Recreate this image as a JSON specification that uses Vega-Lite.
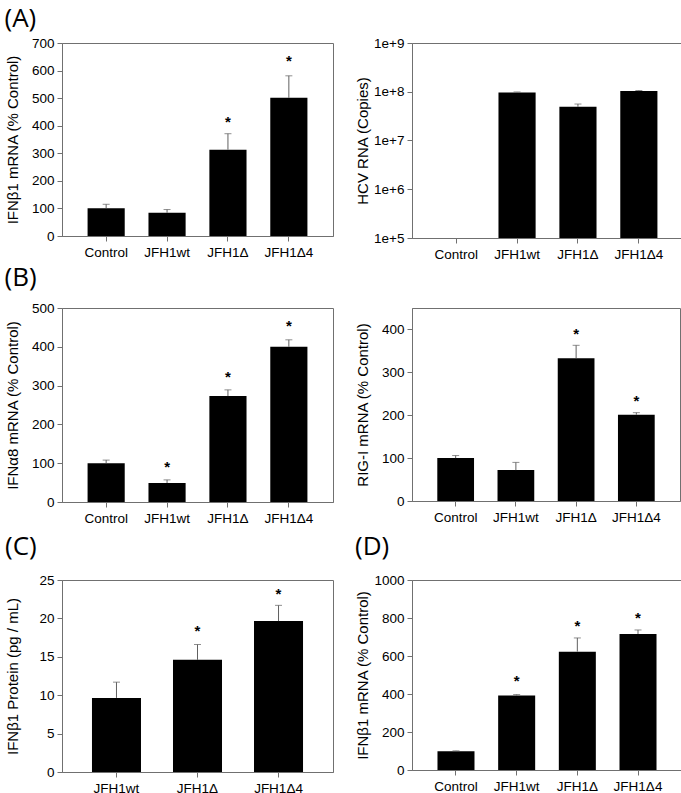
{
  "$schema": "https://vega.github.io/schema/vega-lite/v6.json",
  "padding": {"left": 4, "top": 5, "right": 1, "bottom": 0},
  "background": "white",
  "config": {
    "font": "Liberation Sans",
    "view": {"stroke": "#707070", "strokeWidth": 1},
    "axis": {
      "domainColor": "#707070", "tickColor": "#707070", "tickSize": 5,
      "labelFont": "Liberation Sans", "labelFontSize": 13.5, "labelColor": "black",
      "titleFont": "Liberation Sans", "titleFontSize": 15, "titleFontWeight": "normal", "titleColor": "black",
      "grid": false, "labelOverlap": false
    },
    "axisX": {"labelAngle": 0, "title": null, "labelPadding": 4},
    "axisY": {"minExtent": 37, "maxExtent": 37, "titlePadding": 5, "labelPadding": 3},
    "title": {"font": "Open Sans", "fontSize": 26, "fontWeight": "normal", "anchor": "start", "frame": "bounds", "color": "black", "offset": 6},
    "bar": {"color": "black"},
    "rule": {"color": "#606060"},
    "tick": {"color": "#606060"},
    "concat": {"spacing": 20}
  },
  "datasets": {
    "a1": [
      {"group": "Control", "value": 101, "err": 115, "star": null},
      {"group": "JFH1wt", "value": 84, "err": 96, "star": null},
      {"group": "JFH1Δ", "value": 313, "err": 371, "star": 426},
      {"group": "JFH1Δ4", "value": 501, "err": 581, "star": 646}
    ],
    "a2": [
      {"group": "JFH1wt", "value": 97000000, "err": 99000000},
      {"group": "JFH1Δ", "value": 49000000, "err": 56000000},
      {"group": "JFH1Δ4", "value": 103000000, "err": 106000000}
    ],
    "b1": [
      {"group": "Control", "value": 100, "err": 108, "star": null},
      {"group": "JFH1wt", "value": 49, "err": 57, "star": 99},
      {"group": "JFH1Δ", "value": 273, "err": 289, "star": 330},
      {"group": "JFH1Δ4", "value": 400, "err": 418, "star": 461}
    ],
    "b2": [
      {"group": "Control", "value": 100, "err": 106, "star": null},
      {"group": "JFH1wt", "value": 72, "err": 90, "star": null},
      {"group": "JFH1Δ", "value": 333, "err": 363, "star": 396},
      {"group": "JFH1Δ4", "value": 201, "err": 206, "star": 241}
    ],
    "c": [
      {"group": "JFH1wt", "value": 9.65, "err": 11.7, "star": null},
      {"group": "JFH1Δ", "value": 14.6, "err": 16.6, "star": 18.8},
      {"group": "JFH1Δ4", "value": 19.65, "err": 21.7, "star": 23.6}
    ],
    "d": [
      {"group": "Control", "value": 99, "err": 101, "star": null},
      {"group": "JFH1wt", "value": 392, "err": 397, "star": 485},
      {"group": "JFH1Δ", "value": 623, "err": 695, "star": 776},
      {"group": "JFH1Δ4", "value": 716, "err": 737, "star": 817}
    ]
  },
  "vconcat": [
    {
      "vconcat": [
        {
          "title": {"text": "(A)", "offset": 4},
          "hconcat": [
            {
              "width": 271, "height": 193,
              "data": {"name": "a1"},
              "encoding": {
                "x": {"field": "group", "type": "nominal", "sort": null,
                      "scale": {"paddingInner": 0.39, "paddingOuter": 0.42}}
              },
              "layer": [
                {"mark": {"type": "bar"},
                 "encoding": {"y": {"field": "value", "type": "quantitative", "title": "IFNβ1 mRNA (% Control)",
                   "scale": {"domain": [0, 700], "nice": false}, "axis": {"values": [0,100,200,300,400,500,600,700]}}}},
                {"mark": {"type": "rule", "strokeWidth": 1}, "encoding": {"y": {"field": "value", "type": "quantitative", "title": "IFNβ1 mRNA (% Control)", "axis": {"values": [0,100,200,300,400,500,600,700]}}, "y2": {"field": "err"}}},
                {"mark": {"type": "tick", "size": 7, "thickness": 1}, "encoding": {"y": {"field": "err", "type": "quantitative", "title": "IFNβ1 mRNA (% Control)", "axis": {"values": [0,100,200,300,400,500,600,700]}}}},
                {"mark": {"type": "text", "text": "*", "fontSize": 15, "fontWeight": "bold", "baseline": "middle", "dy": 3},
                 "transform": [{"filter": "datum.star != null"}],
                 "encoding": {"y": {"field": "star", "type": "quantitative", "title": "IFNβ1 mRNA (% Control)", "axis": {"values": [0,100,200,300,400,500,600,700]}}}}
              ]
            },
            {
              "width": 271, "height": 195,
              "data": {"name": "a2"},
              "encoding": {
                "x": {"field": "group", "type": "nominal", "sort": null,
                      "scale": {"domain": ["Control", "JFH1wt", "JFH1Δ", "JFH1Δ4"], "paddingInner": 0.39, "paddingOuter": 0.42}}
              },
              "layer": [
                {"mark": {"type": "bar"},
                 "encoding": {"y": {"field": "value", "type": "quantitative", "title": "HCV RNA (Copies)",
                   "scale": {"type": "log", "domain": [100000, 1000000000], "nice": false},
                   "axis": {"values": [100000, 1000000, 10000000, 100000000, 1000000000], "format": ".0e"}},
                   "y2": {"datum": 100000}}},
                {"mark": {"type": "rule", "strokeWidth": 1}, "encoding": {"y": {"field": "value", "type": "quantitative", "title": "HCV RNA (Copies)", "axis": {"values": [100000, 1000000, 10000000, 100000000, 1000000000], "format": ".0e"}}, "y2": {"field": "err"}}},
                {"mark": {"type": "tick", "size": 7, "thickness": 1}, "encoding": {"y": {"field": "err", "type": "quantitative", "title": "HCV RNA (Copies)", "axis": {"values": [100000, 1000000, 10000000, 100000000, 1000000000], "format": ".0e"}}}}
              ]
            }
          ]
        },
        {
          "title": {"text": "(B)", "offset": 10},
          "hconcat": [
            {
              "width": 271, "height": 194,
              "data": {"name": "b1"},
              "encoding": {
                "x": {"field": "group", "type": "nominal", "sort": null,
                      "scale": {"paddingInner": 0.39, "paddingOuter": 0.42}}
              },
              "layer": [
                {"mark": {"type": "bar"},
                 "encoding": {"y": {"field": "value", "type": "quantitative", "title": "IFNα8 mRNA (% Control)",
                   "scale": {"domain": [0, 500], "nice": false}, "axis": {"values": [0,100,200,300,400,500]}}}},
                {"mark": {"type": "rule", "strokeWidth": 1}, "encoding": {"y": {"field": "value", "type": "quantitative", "title": "IFNα8 mRNA (% Control)", "axis": {"values": [0,100,200,300,400,500]}}, "y2": {"field": "err"}}},
                {"mark": {"type": "tick", "size": 7, "thickness": 1}, "encoding": {"y": {"field": "err", "type": "quantitative", "title": "IFNα8 mRNA (% Control)", "axis": {"values": [0,100,200,300,400,500]}}}},
                {"mark": {"type": "text", "text": "*", "fontSize": 15, "fontWeight": "bold", "baseline": "middle", "dy": 3},
                 "transform": [{"filter": "datum.star != null"}],
                 "encoding": {"y": {"field": "star", "type": "quantitative", "title": "IFNα8 mRNA (% Control)", "axis": {"values": [0,100,200,300,400,500]}}}}
              ]
            },
            {
              "width": 268, "height": 193,
              "data": {"name": "b2"},
              "encoding": {
                "x": {"field": "group", "type": "nominal", "sort": null,
                      "scale": {"paddingInner": 0.39, "paddingOuter": 0.42}}
              },
              "layer": [
                {"mark": {"type": "bar"},
                 "encoding": {"y": {"field": "value", "type": "quantitative", "title": "RIG-I mRNA (% Control)",
                   "scale": {"domain": [0, 450], "nice": false}, "axis": {"values": [0,100,200,300,400]}}}},
                {"mark": {"type": "rule", "strokeWidth": 1}, "encoding": {"y": {"field": "value", "type": "quantitative", "title": "RIG-I mRNA (% Control)", "axis": {"values": [0,100,200,300,400]}}, "y2": {"field": "err"}}},
                {"mark": {"type": "tick", "size": 7, "thickness": 1}, "encoding": {"y": {"field": "err", "type": "quantitative", "title": "RIG-I mRNA (% Control)", "axis": {"values": [0,100,200,300,400]}}}},
                {"mark": {"type": "text", "text": "*", "fontSize": 15, "fontWeight": "bold", "baseline": "middle", "dy": 3},
                 "transform": [{"filter": "datum.star != null"}],
                 "encoding": {"y": {"field": "star", "type": "quantitative", "title": "RIG-I mRNA (% Control)", "axis": {"values": [0,100,200,300,400]}}}}
              ]
            }
          ]
        }
      ],
      "spacing": 3
    },
    {
      "hconcat": [
        {
          "title": {"text": "(C)", "offset": 13},
          "width": 271, "height": 192,
          "data": {"name": "c"},
          "encoding": {
            "x": {"field": "group", "type": "nominal", "sort": null,
                  "scale": {"paddingInner": 0.395, "paddingOuter": 0.37}}
          },
          "layer": [
            {"mark": {"type": "bar"},
             "encoding": {"y": {"field": "value", "type": "quantitative", "title": "IFNβ1 Protein (pg / mL)",
               "scale": {"domain": [0, 25], "nice": false}, "axis": {"values": [0,5,10,15,20,25]}}}},
            {"mark": {"type": "rule", "strokeWidth": 1}, "encoding": {"y": {"field": "value", "type": "quantitative", "title": "IFNβ1 Protein (pg / mL)", "axis": {"values": [0,5,10,15,20,25]}}, "y2": {"field": "err"}}},
            {"mark": {"type": "tick", "size": 7, "thickness": 1}, "encoding": {"y": {"field": "err", "type": "quantitative", "title": "IFNβ1 Protein (pg / mL)", "axis": {"values": [0,5,10,15,20,25]}}}},
            {"mark": {"type": "text", "text": "*", "fontSize": 15, "fontWeight": "bold", "baseline": "middle", "dy": 3},
             "transform": [{"filter": "datum.star != null"}],
             "encoding": {"y": {"field": "star", "type": "quantitative", "title": "IFNβ1 Protein (pg / mL)", "axis": {"values": [0,5,10,15,20,25]}}}}
          ]
        },
        {
          "title": {"text": "(D)", "offset": 13},
          "width": 270, "height": 190,
          "data": {"name": "d"},
          "encoding": {
            "x": {"field": "group", "type": "nominal", "sort": null,
                  "scale": {"paddingInner": 0.39, "paddingOuter": 0.42}}
          },
          "layer": [
            {"mark": {"type": "bar"},
             "encoding": {"y": {"field": "value", "type": "quantitative", "title": "IFNβ1 mRNA (% Control)",
               "scale": {"domain": [0, 1000], "nice": false}, "axis": {"values": [0,200,400,600,800,1000], "format": "d"}}}},
            {"mark": {"type": "rule", "strokeWidth": 1}, "encoding": {"y": {"field": "value", "type": "quantitative", "title": "IFNβ1 mRNA (% Control)", "axis": {"values": [0,200,400,600,800,1000], "format": "d"}}, "y2": {"field": "err"}}},
            {"mark": {"type": "tick", "size": 7, "thickness": 1}, "encoding": {"y": {"field": "err", "type": "quantitative", "title": "IFNβ1 mRNA (% Control)", "axis": {"values": [0,200,400,600,800,1000], "format": "d"}}}},
            {"mark": {"type": "text", "text": "*", "fontSize": 15, "fontWeight": "bold", "baseline": "middle", "dy": 3},
             "transform": [{"filter": "datum.star != null"}],
             "encoding": {"y": {"field": "star", "type": "quantitative", "title": "IFNβ1 mRNA (% Control)", "axis": {"values": [0,200,400,600,800,1000], "format": "d"}}}}
          ]
        }
      ]
    }
  ],
  "spacing": 8
}
